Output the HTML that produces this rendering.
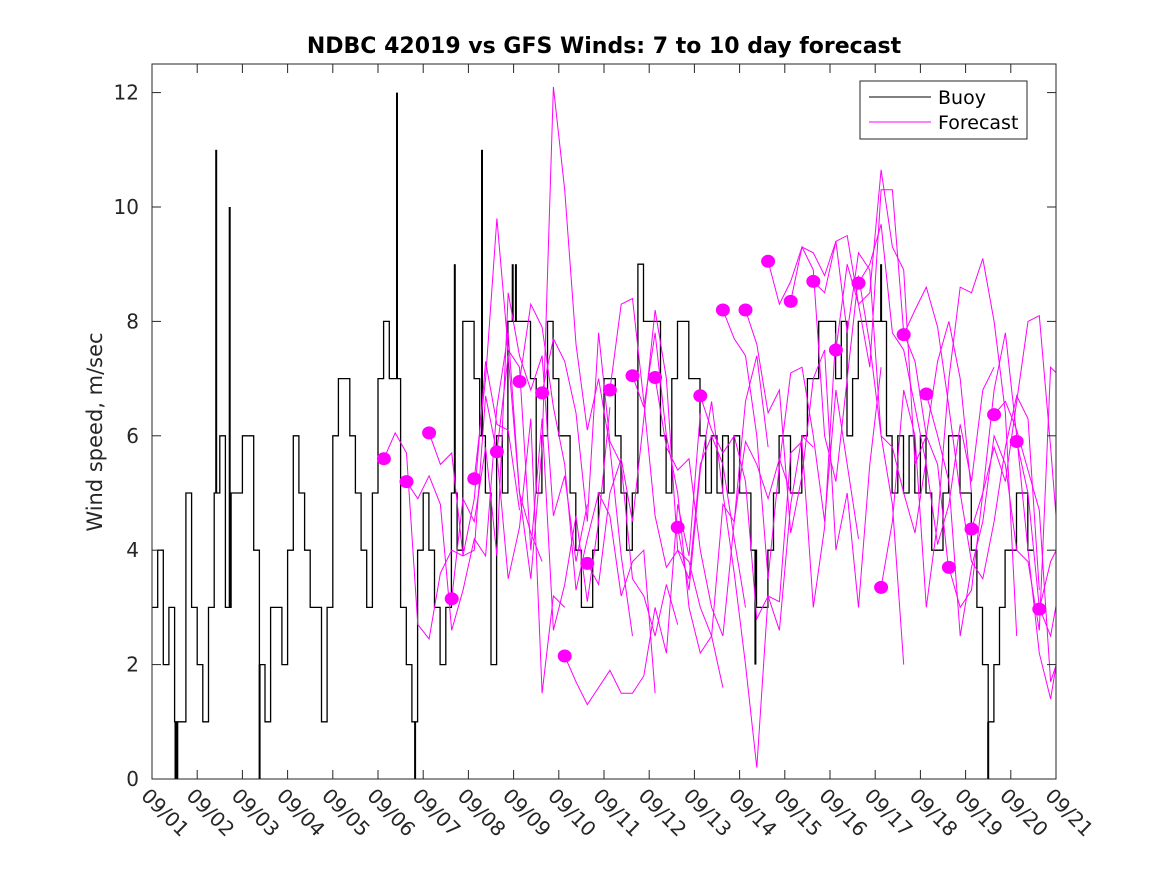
<!DOCTYPE html>
<html><head><meta charset="utf-8"><style>
body{margin:0;background:#fff;}
svg{display:block;font-family:"DejaVu Sans","Liberation Sans",sans-serif;}
</style></head><body>
<svg id="chart" width="1167" height="875" viewBox="0 0 1167 875">
<defs><clipPath id="pc"><rect x="152" y="64" width="904" height="715"/></clipPath></defs>
<rect x="0" y="0" width="1167" height="875" fill="#fff"/>
<text x="604" y="53" text-anchor="middle" font-size="22" font-weight="bold" fill="#000">NDBC 42019 vs GFS Winds: 7 to 10 day forecast</text>
<text transform="translate(102,432) rotate(-90)" text-anchor="middle" font-size="21" fill="#262626">Wind speed, m/sec</text>
<g id="buoy-g" clip-path="url(#pc)"></g>
<g id="fc-g" clip-path="url(#pc)"></g>
<g id="dot-g" clip-path="url(#pc)"></g>
<g id="axes-g"></g>
<g>
<rect x="860" y="81" width="167" height="58" fill="#fff" stroke="#262626" stroke-width="1"/>
<line x1="869" y1="97" x2="931" y2="97" stroke="#000" stroke-width="1"/>
<text x="938" y="104" font-size="19" fill="#000">Buoy</text>
<line x1="869" y1="122" x2="931" y2="122" stroke="#f0f" stroke-width="1"/>
<text x="938" y="129" font-size="19" fill="#000">Forecast</text>
</g>
</svg>
<script>
const xTickLabels=["09/01","09/02","09/03","09/04","09/05","09/06","09/07","09/08","09/09","09/10","09/11","09/12","09/13","09/14","09/15","09/16","09/17","09/18","09/19","09/20","09/21"];
const yTicks=[0,2,4,6,8,10,12];
const buoyStep=0.125;
const buoy=[3,4,2,3,1,1,5,3, 2,1,3,5,6,3,5,5, 6,6,4,2,1,3,3,2, 4,6,5,4,3,3,1,3, 6,7,7,6,5,4,3,5,
7,8,7,7,3,2,1,4, 5,4,3,2,3,5,4,8, 8,7,6,5,2,6,5,8, 8,8,8,7,5,6,8,7, 6,6,5,4,3,3,4,5,
7,7,6,5,4,5,9,8, 8,8,6,5,7,8,8,7, 7,6,5,6,5,6,5,6, 5,5,4,3,3,4,5,6, 6,5,5,6,7,7,8,8,
8,7,8,6,7,8,8,8, 8,8,6,5,6,5,6,5, 6,5,4,4,5,6,6,5, 5,4,3,2,1,2,3,4, 4,5,5,4];
const spikeDays=[0.52,0.56,1.42,1.72,2.38,5.42,5.82,6.7,7.3,7.98,8.05,16.13,18.5,13.35];
const spikeVals=[0,0,11,10,0,12,0,9,11,9,9,9,0,2];
const dotDays=[5.13,5.63,6.13,6.63,7.13,7.63,8.13,8.63,9.13,9.63,10.13,10.63,11.13,11.63,12.13,12.63,13.13,13.63,14.13,14.63,15.13,15.63,16.13,16.63,17.13,17.63,18.13,18.63,19.13,19.63];
const dotVals=[5.6,5.2,6.05,3.15,5.25,5.72,6.95,6.75,2.15,3.77,6.8,7.05,7.02,4.4,6.7,8.2,8.2,9.05,8.35,8.7,7.5,8.67,3.35,7.77,6.73,3.7,4.37,6.37,5.9,2.97];
const fcStep=0.25;
const fc0=[5.6,6.05,5.7,2.7,2.45,3.6,4.0,3.9,4.9,7.3,6.2,6.1,4.7];
const fc1=[5.2,4.9,5.3,4.8,2.6,3.3,4.2,3.9,6.5,7.8,5.0,4.3,3.8];
const fc2=[6.05,5.5,5.7,3.9,4.0,6.7,5.7,3.5,4.4,6.3,1.5,3.2,3.0];
const fc3=[3.15,4.9,4.5,5.8,3.9,8.5,7.4,6.8,7.4,4.6,5.3,3.8,4.8];
const fc4=[5.25,7.0,9.8,7.5,7.2,4.0,6.3,2.6,3.4,4.6,3.1,4.5,6.5];
const fc5=[5.72,7.4,5.0,3.5,5.8,12.1,10.3,7.6,6.1,7.0,5.8,3.9,2.5];
const fc6=[6.95,8.3,7.9,6.5,5.5,3.3,4.2,5.0,4.6,3.2,3.8,4.0,1.5];
const fc7=[6.75,7.7,7.3,6.4,4.5,7.8,5.9,5.5,3.5,3.2,2.5,3.4,2.7];
const fc8=[2.15,1.7,1.3,1.6,1.9,1.5,1.5,1.8,3.0,2.2,4.8,3.9,6.4];
const fc9=[3.77,3.4,5.0,5.6,4.5,6.3,8.2,7.0,4.0,3.8,3.0,2.5,1.6];
const fc10=[6.8,8.3,8.4,6.6,4.6,3.7,4.0,3.5,5.5,6.0,5.5,4.2,3.0];
const fc11=[7.05,6.5,7.8,6.0,5.0,3.0,2.2,2.5,4.8,4.5,6.6,7.4,5.8];
const fc12=[7.02,5.8,5.4,5.6,4.0,3.0,2.5,4.5,5.9,5.5,4.9,5.6,5.0];
const fc13=[4.4,3.3,5.4,6.6,5.0,3.6,2.0,0.2,3.2,2.6,4.8,6.0,5.8];
const fc14=[6.7,6.1,5.7,6.0,5.2,2.8,3.2,3.1,5.7,5.9,3.0,4.4,7.8];
const fc15=[8.2,7.7,7.4,6.0,3.5,5.5,7.1,7.2,6.0,4.5,6.8,5.5,4.2];
const fc16=[8.2,7.6,6.4,6.8,4.3,5.3,7.0,7.5,4.0,5.0,3.0,5.5,7.2];
const fc17=[9.05,8.3,8.7,9.3,8.9,6.0,5.2,7.0,8.8,7.6,6.0,4.8,2.0];
const fc18=[8.35,9.3,9.2,8.8,9.4,7.8,9.2,8.9,6.0,5.8,5.0,4.3,5.6];
const fc19=[8.7,8.5,9.4,9.5,8.3,7.2,10.3,10.3,7.8,7.3,6.0,5.5,3.6];
const fc20=[7.5,9.0,8.3,8.5,10.65,9.3,8.9,5.5,6.0,7.3,8.0,7.0,5.0];
const fc21=[8.67,9.0,9.7,7.8,7.5,6.5,5.5,4.1,4.8,6.2,5.2,6.8,7.2];
const fc22=[3.35,4.5,6.8,6.0,3.0,4.5,7.0,8.6,8.5,9.1,8.0,6.4,2.5];
const fc23=[7.77,8.2,8.6,7.9,6.5,5.0,3.8,3.5,4.5,5.8,6.7,6.3,3.3];
const fc24=[6.73,6.0,5.2,2.5,3.7,4.5,6.0,5.5,4.0,3.8,2.6,7.2,7.0];
const fc25=[3.7,3.0,3.3,5.0,6.8,7.8,6.0,4.0,2.2,1.4,2.6,3.5,2.0];
const fc26=[4.37,5.0,5.8,5.2,6.6,8.0,8.1,5.8,3.3,2.6,2.5,2.0,3.0];
const fc27=[6.37,6.6,6.1,5.4,4.7,1.7,2.3,3.2,3.5,3.8,1.4,2.5,5.5];
const fc28=[5.9,5.0,3.0,2.5,3.6,2.2,2.0,1.5,0.4,1.5,2.0,1.0,2.5];
const fc29=[2.97,3.8,4.2,3.6,0.4,3.4,1.0,2.0,0.9,1.6,3.5,4.0,4.5];
const forecasts=[fc0,fc1,fc2,fc3,fc4,fc5,fc6,fc7,fc8,fc9,fc10,fc11,fc12,fc13,fc14,fc15,fc16,fc17,fc18,fc19,fc20,fc21,fc22,fc23,fc24,fc25,fc26,fc27,fc28,fc29];

const NS="http://www.w3.org/2000/svg";
const L=152,R=1056,T=64,B=779,DAYS=20,YMAX=12.5;
function xs(d){return L+(R-L)*d/DAYS;}
function ys(v){return B-(B-T)*v/YMAX;}
function mk(tag,attrs,parent){const e=document.createElementNS(NS,tag);for(const k in attrs)e.setAttribute(k,attrs[k]);parent.appendChild(e);return e;}

const bg=document.getElementById("buoy-g");
let d="M"+xs(0)+" "+ys(buoy[0]);
for(let i=1;i<buoy.length;i++){d+=" H"+xs(i*buoyStep).toFixed(1)+" V"+ys(buoy[i]).toFixed(1);}
d+=" H"+xs(buoy.length*buoyStep).toFixed(1);
const bp=mk("path",{d:d,fill:"none",stroke:"#000","stroke-width":"1.3"},bg);


spikeDays.forEach((sd,k)=>{
  const idx=Math.min(buoy.length-1,Math.floor(sd/buoyStep));
  const x=xs(sd);
  const sp=mk("rect",{x:(x-1).toFixed(1),y:Math.min(ys(spikeVals[k]),ys(buoy[idx])).toFixed(1),width:2,height:Math.abs(ys(spikeVals[k])-ys(buoy[idx])).toFixed(1),fill:"#000"},bg);
  
  
});

const fg=document.getElementById("fc-g");
forecasts.forEach((arr,k)=>{
  const pts=arr.map((v,i)=>xs(dotDays[k]+i*fcStep).toFixed(1)+","+ys(v).toFixed(1)).join(" ");
  const pl=mk("polyline",{points:pts,fill:"none",stroke:"#f0f","stroke-width":"1"},fg);
  
  
});
const dg=document.getElementById("dot-g");
dotDays.forEach((dd,k)=>{
  const c=mk("ellipse",{cx:xs(dd).toFixed(1),cy:ys(dotVals[k]).toFixed(1),rx:7,ry:6.5,fill:"#f0f"},dg);
  
  
});

const ag=document.getElementById("axes-g");
const box=mk("rect",{x:L,y:T,width:R-L,height:B-T,fill:"none",stroke:"#262626","stroke-width":"1"},ag);


xTickLabels.forEach((lab,i)=>{
  const x=xs(i);
  if(i>0&&i<DAYS){
    mk("line",{x1:x,y1:B,x2:x,y2:B-9,stroke:"#262626","stroke-width":"1"},ag);
    mk("line",{x1:x,y1:T,x2:x,y2:T+9,stroke:"#262626","stroke-width":"1"},ag);
  }
  const t=mk("text",{transform:"translate("+(x-12)+","+(B+18)+") rotate(45)","font-size":"20",fill:"#262626"},ag);
  t.textContent=lab;
  
  
});
yTicks.forEach(v=>{
  const y=ys(v);
  mk("line",{x1:L,y1:y,x2:L+9,y2:y,stroke:"#262626","stroke-width":"1"},ag);
  mk("line",{x1:R,y1:y,x2:R-9,y2:y,stroke:"#262626","stroke-width":"1"},ag);
  const t=mk("text",{x:L-13,y:y+7,"text-anchor":"end","font-size":"20",fill:"#262626"},ag);
  t.textContent=v;
  
  
});
</script>
</body></html>
